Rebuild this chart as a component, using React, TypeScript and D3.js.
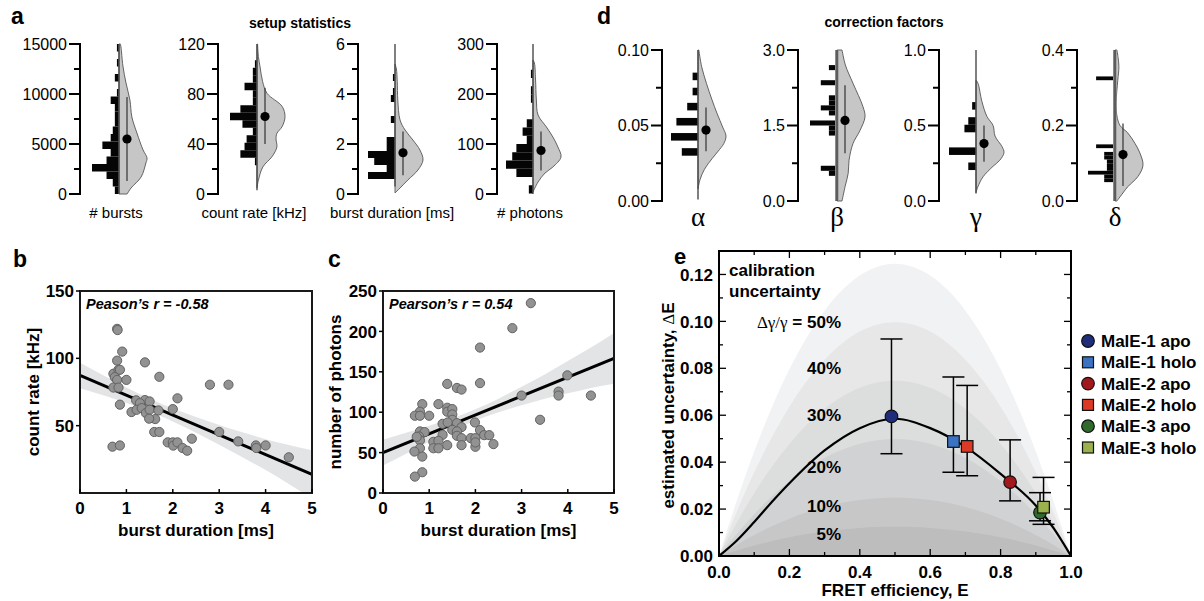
import React from "react";
import * as d3 from "d3";

const SANS = "'Liberation Sans', Arial, Helvetica, sans-serif";
const SERIF = "'Liberation Serif', 'DejaVu Serif', 'Times New Roman', serif";

// ---------------- panel a : setup statistics ----------------
const statLabels = ["# bursts", "count rate [kHz]", "burst duration [ms]", "# photons"];
const statMax = [15000, 120, 6, 300];
const statMajorTicks = [[0, 5000, 10000, 15000], [0, 40, 80, 120], [0, 2, 4, 6], [0, 100, 200, 300]];
const statMinorTicks = [[2500, 7500, 12500], [20, 60, 100], [1, 3, 5], [50, 150, 250]];
const statBinStart = [0, 23, 0.6, 1];
const statBinWidth = [750, 6, 0.28, 16.5];
const burstsCounts = [2, 3, 6, 13, 6, 4, 8, 4, 3, 2, 2, 2, 4, 1, 0, 2, 0, 1, 0, 1];
const countRateCounts = [1, 8, 6, 5, 2, 7, 13, 8, 2, 2, 6, 2, 2, 1];
const durationCounts = [13, 4, 10, 13, 4, 4, 0, 0, 2, 0, 0, 2, 1, 0, 1];
const photonsCounts = [2, 0, 8, 13, 10, 8, 3, 5, 3, 0, 0, 1, 1, 0, 1];
const burstsViolin = [[0, 0.29], [600, 0.43], [1700, 0.79], [3100, 0.96], [3600, 1.0], [4400, 0.86], [6100, 0.64], [7700, 0.46], [9400, 0.39], [11100, 0.25], [12800, 0.14], [14700, 0.07], [15000, 0.05]];
const countRateViolin = [[5, 0.0], [11, 0.05], [21.7, 0.21], [30, 0.54], [37.6, 0.71], [44, 0.68], [48.5, 0.71], [54, 0.9], [62, 1.0], [70, 0.9], [80.5, 0.36], [90, 0.2], [101.6, 0.11], [110, 0.05], [120, 0.02]];
const durationViolin = [[0.04, 0.0], [0.24, 0.18], [0.56, 0.46], [0.96, 0.82], [1.36, 1.0], [1.76, 0.89], [2.16, 0.64], [2.56, 0.36], [2.96, 0.18], [3.76, 0.1], [4.5, 0.08], [5.0, 0.05], [5.2, 0.0]];
const photonsViolin = [[4, 0.0], [24, 0.18], [42, 0.43], [54, 0.71], [74, 1.0], [94, 0.89], [114, 0.71], [134, 0.48], [158, 0.18], [188, 0.12], [230, 0.09], [262, 0.05], [268, 0.0]];
const statLineRange = [[0, 15000], [3, 120], [0.3, 6], [0, 300]];
const statMean = [5500, 62, 1.65, 87];
const statLow = [1300, 40, 0.75, 47];
const statHigh = [9700, 85, 2.5, 125];

// ---------------- panel d : correction factors ----------------
const factorLabels = ["α", "β", "γ", "δ"];
const factorMax = [0.1, 3, 1, 0.4];
const factorMajorTicks = [[0, 0.05, 0.1], [0, 1.5, 3], [0, 0.5, 1], [0, 0.2, 0.4]];
const factorMinorTicks = [[0.025, 0.075], [0.75, 2.25], [0.25, 0.75], [0.1, 0.3]];
const factorBinStart = [0.03, 0.5, 0.205, 0.05];
const factorBinWidth = [0.005, 0.1, 0.05, 0.01];
const alphaCounts = [6, 0, 10, 0, 8, 0, 4, 0, 2, 0, 2];
const betaCounts = [3, 6, 0, 0, 0, 0, 0, 0, 3, 3, 10, 0, 3, 6, 3, 3, 0, 0, 6, 0, 0, 3];
const gammaCounts = [2, 0, 7, 0, 0, 3, 2, 0, 1];
const deltaCounts = [4, 4, 10, 3, 3, 3, 4, 4, 0, 7, 0, 0, 0, 0, 0, 0, 0, 0, 0, 0, 0, 0, 0, 0, 0, 0, 0, 7];
const alphaViolin = [[0.008, 0.0], [0.014, 0.07], [0.021, 0.23], [0.028, 0.5], [0.033, 0.72], [0.038, 0.92], [0.043, 1.0], [0.049, 0.88], [0.058, 0.68], [0.067, 0.5], [0.078, 0.3], [0.089, 0.13], [0.1, 0.03]];
const betaViolin = [[0, 0.18], [0.29, 0.29], [0.55, 0.4], [0.81, 0.43], [1.14, 0.57], [1.4, 0.82], [1.67, 1.0], [1.87, 0.93], [2.34, 0.57], [2.7, 0.3], [3.0, 0.18]];
const gammaViolin = [[0.057, 0.0], [0.095, 0.07], [0.16, 0.25], [0.23, 0.61], [0.27, 0.85], [0.32, 1.0], [0.36, 0.93], [0.43, 0.68], [0.5, 0.61], [0.56, 0.39], [0.66, 0.21], [0.78, 0.07], [0.8, 0.0]];
const deltaViolin = [[0, 0.07], [0.011, 0.18], [0.038, 0.46], [0.065, 0.82], [0.095, 1.0], [0.127, 0.89], [0.153, 0.71], [0.18, 0.46], [0.2, 0.18], [0.225, 0.07], [0.26, 0.04], [0.32, 0.1], [0.356, 0.14], [0.38, 0.11], [0.4, 0.07]];
const factorLineRange = [[0.001, 0.1], [0, 3], [0.05, 1], [0, 0.4]];
const factorMean = [0.047, 1.6, 0.38, 0.123];
const factorLow = [0.033, 0.95, 0.26, 0.04];
const factorHigh = [0.062, 2.3, 0.5, 0.205];

// ---------------- panel b / c : scatter ----------------
const xTicksBC = [0, 1, 2, 3, 4, 5];
const bYTicks = [50, 100, 150];
const cYTicks = [0, 50, 100, 150, 200, 250];
const bDuration = [0.8, 0.81, 0.91, 0.8, 1.4, 0.72, 0.83, 0.86, 0.75, 0.8, 1.0, 1.71, 0.72, 0.83, 2.8, 3.2, 2.1, 1.21, 1.4, 1.5, 1.29, 1.11, 1.22, 1.33, 0.86, 1.42, 1.5, 1.69, 2.0, 1.62, 1.49, 1.6, 1.71, 1.89, 2.0, 2.01, 2.1, 2.21, 2.31, 2.41, 3.0, 3.41, 3.79, 3.8, 4.0, 4.5, 0.7, 0.86];
const bRate = [121.9, 121, 105, 98.3, 97, 88.6, 91.5, 91.5, 86, 84, 84, 86.3, 78.3, 78.3, 80.4, 80.4, 70.3, 68.8, 69, 68, 66.7, 60.1, 61.8, 63, 65.6, 59.4, 61.8, 61.3, 62.3, 54.9, 55.2, 45.3, 45.3, 37.6, 37.6, 35.2, 37.6, 33.4, 31.4, 40.3, 45.3, 38.3, 35.3, 33.4, 35.3, 26.5, 34.4, 35.3];
const bFitX = [0, 5];
const bFitY = [87.3, 13.8];
const bBandX = [0, 0.5, 1, 1.5, 2, 2.5, 3, 3.5, 4, 4.5, 5];
const bBandLo = [77.8, 72.5, 66.8, 60.5, 53.1, 44.8, 35.9, 26.6, 17, 6.7, -4.2];
const bBandHi = [96.8, 87.5, 78.4, 70.1, 62.7, 56.4, 50.5, 45.2, 40, 35.7, 31.8];

const cDuration = [3.2, 2.8, 2.1, 2.1, 1.39, 1.6, 1.7, 3.99, 3.8, 3.8, 3.0, 4.5, 3.4, 0.85, 1.2, 0.8, 0.69, 0.8, 1.0, 1.39, 1.39, 1.5, 1.5, 1.5, 1.29, 1.4, 1.6, 1.99, 1.7, 1.5, 1.6, 1.6, 2.1, 0.8, 0.9, 0.78, 0.8, 0.73, 1.29, 1.7, 1.9, 2.0, 2.19, 2.3, 1.09, 1.2, 2.0, 2.39, 1.39, 1.7, 1.09, 1.2, 0.8, 0.68, 0.85, 0.85, 0.69, 2.0];
const cPhotons = [235, 204, 180, 136, 135, 130, 128, 145.6, 125.5, 120.6, 120.6, 120.6, 90.6, 110, 110, 100.6, 95.6, 95.6, 95.6, 105.5, 100.6, 103.9, 97.3, 90.6, 85.6, 87.3, 86.4, 87.3, 81.5, 78.2, 76.2, 70.8, 77.8, 76.2, 75.4, 70, 65.1, 69.5, 72, 67.9, 67.9, 67.9, 71.6, 71.6, 63.3, 64.6, 57.2, 60.5, 59.2, 59.2, 55.4, 55.4, 55.4, 51.3, 45.1, 25.7, 20.3, 62.6];
const cFitX = [0, 5];
const cFitY = [50, 166.6];
const cBandX = [0, 0.5, 1, 1.5, 2, 2.5, 3, 3.5, 4, 4.5, 5];
const cBandLo = [34, 48.7, 63.3, 77.5, 89.6, 99.8, 108.5, 116.6, 123.3, 130, 135.1];
const cBandHi = [66, 74.7, 83.3, 92.5, 103.6, 116.8, 131.5, 146.6, 163.3, 180, 198.1];

// ---------------- panel e : calibration uncertainty ----------------
const eXTicks = [0, 0.2, 0.4, 0.6, 0.8, 1.0];
const eYTicks = [0, 0.02, 0.04, 0.06, 0.08, 0.1, 0.12];
const levelNames = ["5%", "10%", "20%", "30%", "40%", "50%"];
const levelPeak = [0.0125, 0.025, 0.05, 0.075, 0.1, 0.125];
const bandE = [0, 0.05, 0.1, 0.15, 0.2, 0.25, 0.3, 0.35, 0.4, 0.45, 0.5, 0.55, 0.6, 0.65, 0.7, 0.75, 0.8, 0.85, 0.9, 0.95, 1];
const bandShape = [0, 0.19, 0.36, 0.51, 0.64, 0.75, 0.84, 0.91, 0.96, 0.99, 1, 0.99, 0.96, 0.91, 0.84, 0.75, 0.64, 0.51, 0.36, 0.19, 0];
const fitE = [0, 0.05, 0.1, 0.15, 0.2, 0.3, 0.4, 0.5, 0.6, 0.7, 0.8, 0.9, 0.95, 1.0];
const fitDelta = [0, 0.0065, 0.0145, 0.023, 0.031, 0.045, 0.0545, 0.0585, 0.0545, 0.0465, 0.035, 0.0215, 0.012, 0];
const sampleNames = ["MalE-1 apo", "MalE-1 holo", "MalE-2 apo", "MalE-2 holo", "MalE-3 apo", "MalE-3 holo"];
const sampleE = [0.49, 0.666, 0.827, 0.705, 0.912, 0.922];
const sampleDelta = [0.0595, 0.0488, 0.0315, 0.0467, 0.0185, 0.0208];
const sampleLow = [0.0436, 0.0357, 0.0235, 0.0342, 0.015, 0.0135];
const sampleHigh = [0.0925, 0.0763, 0.0495, 0.0727, 0.027, 0.0335];
const sampleShape = ["circle", "square", "circle", "square", "circle", "square"];

const sampleColors = ["#1f2d7b", "#3b73c4", "#a3181c", "#dc3a26", "#2f6a2c", "#9bb14d"];
const bandColors = ["#bdbdbd", "#c7c7c8", "#d1d2d3", "#dcdddd", "#e7e7e8", "#f1f2f3"];

type VP = {
  axisX: number; cx: number; yTop: number; yBot: number; max: number;
  major: number[]; minor: number[]; fmt: (v: number) => string;
  binStart: number; binWidth: number; counts: number[]; violin: number[][];
  lineRange: number[]; mean: number; lo: number; hi: number; meanDx: number;
  thick: boolean; labelNode: React.ReactNode;
};

function ViolinPlot(p: VP) {
  const y = d3.scaleLinear().domain([0, p.max]).range([p.yBot, p.yTop]);
  const w = d3.scaleLinear().domain([0, d3.max(p.counts) as number]).range([0, 27]);
  const area = d3
    .area<number[]>()
    .y((d) => y(d[0]))
    .x0(p.cx)
    .x1((d) => p.cx + d[1] * 28)
    .curve(d3.curveCatmullRom);
  return (
    <g>
      <line x1={p.axisX} x2={p.axisX} y1={p.yBot + 1} y2={p.yTop - 1} stroke="#000" strokeWidth={2} />
      {p.major.map((t) => (
        <g key={"M" + t}>
          <line x1={p.axisX - 11} x2={p.axisX} y1={y(t)} y2={y(t)} stroke="#000" strokeWidth={2} />
          <text x={p.axisX - 13} y={y(t)} dy="0.36em" textAnchor="end" fontSize={16} fontFamily={SANS}>
            {p.fmt(t)}
          </text>
        </g>
      ))}
      {p.minor.map((t) => (
        <line key={"m" + t} x1={p.axisX - 6} x2={p.axisX} y1={y(t)} y2={y(t)} stroke="#000" strokeWidth={2} />
      ))}
      {p.counts.map((c, i) =>
        c > 0 ? (
          <rect
            key={"b" + i}
            x={p.cx - w(c)}
            y={y(p.binStart + (i + 1) * p.binWidth)}
            width={w(c)}
            height={y(p.binStart + i * p.binWidth) - y(p.binStart + (i + 1) * p.binWidth)}
            fill="#050505"
          />
        ) : null
      )}
      <path d={area(p.violin) || ""} fill="#c6c6c6" stroke="#555" strokeWidth={0.9} />
      {p.thick ? (
        <rect x={p.cx - 2} width={3.5} y={y(p.max)} height={y(0) - y(p.max)} fill="#8a8a8a" />
      ) : null}
      <line x1={p.cx} x2={p.cx} y1={y(p.lineRange[0])} y2={y(p.lineRange[1])} stroke="#4a4a4a" strokeWidth={1.4} />
      <line x1={p.cx + p.meanDx} x2={p.cx + p.meanDx} y1={y(p.lo)} y2={y(p.hi)} stroke="#333" strokeWidth={1.2} />
      <circle cx={p.cx + p.meanDx} cy={y(p.mean)} r={4.6} fill="#000" />
      {p.labelNode}
    </g>
  );
}

function ScatterPanel(props: {
  left: number; right: number; top: number; bottom: number; yMax: number;
  yTicks: number[]; xs: number[]; ys: number[]; fitX: number[]; fitY: number[];
  bandX: number[]; bandLo: number[]; bandHi: number[]; id: string;
  yLabel: string; yLabelX: number; note: string;
}) {
  const p = props;
  const x = d3.scaleLinear().domain([0, 5]).range([p.left, p.right]);
  const y = d3.scaleLinear().domain([0, p.yMax]).range([p.bottom, p.top]);
  const bandPts = p.bandX.map((v, i) => [v, p.bandLo[i], p.bandHi[i]]);
  const band = d3
    .area<number[]>()
    .x((d) => x(d[0]))
    .y0((d) => y(d[1]))
    .y1((d) => y(d[2]))
    .curve(d3.curveMonotoneX);
  const fit = d3
    .line<number[]>()
    .x((d) => x(d[0]))
    .y((d) => y(d[1]));
  const midY = (p.top + p.bottom) / 2;
  return (
    <g fontFamily={SANS}>
      <defs>
        <clipPath id={p.id}>
          <rect x={p.left} y={p.top} width={p.right - p.left} height={p.bottom - p.top} />
        </clipPath>
      </defs>
      <g clipPath={`url(#${p.id})`}>
        <path d={band(bandPts) || ""} fill="#e3e4e6" />
        <path d={fit(p.fitX.map((v, i) => [v, p.fitY[i]])) || ""} stroke="#000" strokeWidth={3} fill="none" />
      </g>
      {p.xs.map((v, i) => (
        <circle key={i} cx={x(v)} cy={y(p.ys[i])} r={4.6} fill="#929292" stroke="#626262" strokeWidth={1} />
      ))}
      <rect x={p.left} y={p.top} width={p.right - p.left} height={p.bottom - p.top} fill="none" stroke="#1a1a1a" strokeWidth={2} />
      {xTicksBC.map((t) => (
        <g key={"x" + t}>
          <line x1={x(t)} x2={x(t)} y1={p.bottom} y2={p.bottom - 4} stroke="#000" strokeWidth={1.5} />
          <text x={x(t)} y={p.bottom + 21} textAnchor="middle" fontSize={17} fontWeight="bold">
            {t}
          </text>
        </g>
      ))}
      {p.yTicks.map((t) => (
        <g key={"y" + t}>
          <line x1={p.left - 4} x2={p.left} y1={y(t)} y2={y(t)} stroke="#000" strokeWidth={1.5} />
          <text x={p.left - 6} y={y(t)} dy="0.36em" textAnchor="end" fontSize={17} fontWeight="bold">
            {t}
          </text>
        </g>
      ))}
      <text x={(p.left + p.right) / 2} y={p.bottom + 43} textAnchor="middle" fontSize={17} fontWeight="bold">
        burst duration [ms]
      </text>
      <text
        transform={`translate(${p.yLabelX},${midY}) rotate(-90)`}
        textAnchor="middle"
        dy="0.36em"
        fontSize={17}
        fontWeight="bold"
      >
        {p.yLabel}
      </text>
      <text x={p.left + 6} y={p.top + 18} fontSize={14.5} fontWeight="bold" fontStyle="italic">
        {p.note}
      </text>
    </g>
  );
}

function PanelE() {
  const left = 719, right = 1071, top = 251, bottom = 556;
  const x = d3.scaleLinear().domain([0, 1]).range([left, right]);
  const y = d3.scaleLinear().domain([0, 0.13]).range([bottom, top]);
  const bandArea = d3
    .area<number[]>()
    .x((d) => x(d[0]))
    .y0(y(0))
    .y1((d) => y(d[1]))
    .curve(d3.curveBasis);
  const fitLine = d3
    .line<number[]>()
    .x((d) => x(d[0]))
    .y((d) => y(d[1]))
    .curve(d3.curveMonotoneX);
  const order = levelPeak.map((_, i) => i).reverse();
  const labelVal = [0.0094, 0.0213, 0.038, 0.06, 0.08, 0.1];
  const minorY = d3.range(0, 0.1301, 0.01);
  const minorX = d3.range(0, 1.001, 0.1);
  return (
    <g fontFamily={SANS}>
      <defs>
        <clipPath id="clipE">
          <rect x={left} y={top} width={right - left} height={bottom - top} />
        </clipPath>
      </defs>
      <g clipPath="url(#clipE)">
        {order.map((i) => (
          <path
            key={"band" + i}
            d={bandArea(bandE.map((e, k) => [e, bandShape[k] * levelPeak[i]])) || ""}
            fill={bandColors[i]}
          />
        ))}
        <path d={fitLine(fitE.map((e, k) => [e, fitDelta[k]])) || ""} fill="none" stroke="#000" strokeWidth={2.2} />
      </g>
      {levelNames.map((n, i) => (
        <text key={"lab" + i} x={841} y={y(labelVal[i])} dy="0.36em" textAnchor="end" fontSize={17} fontWeight="bold">
          {i === levelNames.length - 1 ? (
            <>
              <tspan fontFamily={SERIF} fontWeight="normal">Δγ/γ</tspan>
              <tspan>{" = " + n}</tspan>
            </>
          ) : (
            n
          )}
        </text>
      ))}
      <text x={729} y={276} fontSize={17} fontWeight="bold">calibration</text>
      <text x={729} y={297} fontSize={17} fontWeight="bold">uncertainty</text>
      {sampleE.map((e, i) => {
        const cx = x(e);
        const cap = 11;
        return (
          <g key={"err" + i}>
            <line x1={cx} x2={cx} y1={y(sampleLow[i])} y2={y(sampleHigh[i])} stroke="#000" strokeWidth={1.5} />
            <line x1={cx - cap} x2={cx + cap} y1={y(sampleLow[i])} y2={y(sampleLow[i])} stroke="#000" strokeWidth={1.5} />
            <line x1={cx - cap} x2={cx + cap} y1={y(sampleHigh[i])} y2={y(sampleHigh[i])} stroke="#000" strokeWidth={1.5} />
          </g>
        );
      })}
      {sampleE.map((e, i) =>
        sampleShape[i] === "circle" ? (
          <circle key={"pt" + i} cx={x(e)} cy={y(sampleDelta[i])} r={6.3} fill={sampleColors[i]} stroke="#111" strokeWidth={1.2} />
        ) : (
          <rect key={"pt" + i} x={x(e) - 5.8} y={y(sampleDelta[i]) - 5.8} width={11.6} height={11.6} fill={sampleColors[i]} stroke="#111" strokeWidth={1.2} />
        )
      )}
      <rect x={left} y={top} width={right - left} height={bottom - top} fill="none" stroke="#000" strokeWidth={2} />
      {minorY.map((t, i) => {
        const len = i % 2 === 0 ? 7 : 4;
        return (
          <g key={"yt" + i}>
            <line x1={left} x2={left + len} y1={y(t)} y2={y(t)} stroke="#000" strokeWidth={1.3} />
            <line x1={right} x2={right - len} y1={y(t)} y2={y(t)} stroke="#000" strokeWidth={1.3} />
          </g>
        );
      })}
      {minorX.map((t, i) => {
        const len = i % 2 === 0 ? 7 : 4;
        return (
          <g key={"xt" + i}>
            <line x1={x(t)} x2={x(t)} y1={bottom} y2={bottom - len} stroke="#000" strokeWidth={1.3} />
            <line x1={x(t)} x2={x(t)} y1={top} y2={top + len} stroke="#000" strokeWidth={1.3} />
          </g>
        );
      })}
      {eYTicks.map((t) => (
        <text key={"yl" + t} x={left - 6} y={y(t)} dy="0.36em" textAnchor="end" fontSize={17} fontWeight="bold">
          {d3.format(".2f")(t)}
        </text>
      ))}
      {eXTicks.map((t) => (
        <text key={"xl" + t} x={x(t)} y={bottom + 22} textAnchor="middle" fontSize={17} fontWeight="bold">
          {d3.format(".1f")(t)}
        </text>
      ))}
      <text x={(left + right) / 2} y={bottom + 40} textAnchor="middle" fontSize={17} fontWeight="bold">
        FRET efficiency, E
      </text>
      <text transform={`translate(668,${(top + bottom) / 2 + 2}) rotate(-90)`} textAnchor="middle" dy="0.36em" fontSize={17} fontWeight="bold">
        estimated uncertainty, <tspan fontFamily={SERIF} fontWeight="normal">Δ</tspan>E
      </text>
      {sampleNames.map((n, i) => {
        const ly = 341 + i * 21.3;
        return (
          <g key={"leg" + i}>
            {sampleShape[i] === "circle" ? (
              <circle cx={1088} cy={ly} r={6.3} fill={sampleColors[i]} stroke="#111" strokeWidth={1.2} />
            ) : (
              <rect x={1082.5} y={ly - 5.5} width={11} height={11} fill={sampleColors[i]} stroke="#111" strokeWidth={1.2} />
            )}
            <text x={1101} y={ly} dy="0.36em" fontSize={17} fontWeight="bold">
              {n}
            </text>
          </g>
        );
      })}
    </g>
  );
}

export default function App() {
  const statCounts = [burstsCounts, countRateCounts, durationCounts, photonsCounts];
  const statViolins = [burstsViolin, countRateViolin, durationViolin, photonsViolin];
  const statAxisX = [80, 218, 358, 497];
  const statCx = [119, 257, 395, 533];
  const factorCounts = [alphaCounts, betaCounts, gammaCounts, deltaCounts];
  const factorViolins = [alphaViolin, betaViolin, gammaViolin, deltaViolin];
  const factorAxisX = [662, 798, 939, 1077];
  const factorCx = [698, 837, 976, 1115];
  const factorFmt = [d3.format(".2f"), d3.format(".1f"), d3.format(".1f"), d3.format(".1f")];
  return (
    <svg
      width={1204}
      height={601}
      viewBox="0 0 1204 601"
      style={{ position: "absolute", left: 0, top: 0, background: "#fff" }}
      fontFamily={SANS}
    >
      <rect width={1204} height={601} fill="#fff" />
      <text x={11} y={24} fontSize={23} fontWeight="bold">a</text>
      <text x={597} y={24} fontSize={23} fontWeight="bold">d</text>
      <text x={13} y={267} fontSize={23} fontWeight="bold">b</text>
      <text x={328} y={267} fontSize={23} fontWeight="bold">c</text>
      <text x={674} y={264} fontSize={22} fontWeight="bold">e</text>
      <text x={300} y={28} textAnchor="middle" fontSize={14} fontWeight="bold">setup statistics</text>
      <text x={884} y={27} textAnchor="middle" fontSize={14} fontWeight="bold">correction factors</text>

      {statLabels.map((lab, i) => (
        <ViolinPlot
          key={"s" + i}
          axisX={statAxisX[i]}
          cx={statCx[i]}
          yTop={44}
          yBot={194}
          max={statMax[i]}
          major={statMajorTicks[i]}
          minor={statMinorTicks[i]}
          fmt={(v) => String(v)}
          binStart={statBinStart[i]}
          binWidth={statBinWidth[i]}
          counts={statCounts[i]}
          violin={statViolins[i]}
          lineRange={statLineRange[i]}
          mean={statMean[i]}
          lo={statLow[i]}
          hi={statHigh[i]}
          meanDx={8}
          thick={false}
          labelNode={
            <text x={statCx[i] - 3} y={218} textAnchor="middle" fontSize={15} fontFamily={SANS}>
              {lab}
            </text>
          }
        />
      ))}

      {factorLabels.map((lab, i) => (
        <ViolinPlot
          key={"f" + i}
          axisX={factorAxisX[i]}
          cx={factorCx[i]}
          yTop={50}
          yBot={201}
          max={factorMax[i]}
          major={factorMajorTicks[i]}
          minor={factorMinorTicks[i]}
          fmt={factorFmt[i]}
          binStart={factorBinStart[i]}
          binWidth={factorBinWidth[i]}
          counts={factorCounts[i]}
          violin={factorViolins[i]}
          lineRange={factorLineRange[i]}
          mean={factorMean[i]}
          lo={factorLow[i]}
          hi={factorHigh[i]}
          meanDx={8}
          thick={i === 1 || i === 3}
          labelNode={
            <text x={factorCx[i]} y={226} textAnchor="middle" fontSize={27} fontFamily={SERIF}>
              {lab}
            </text>
          }
        />
      ))}

      <ScatterPanel
        id="clipB"
        left={80}
        right={312}
        top={291}
        bottom={493}
        yMax={150}
        yTicks={bYTicks}
        xs={bDuration}
        ys={bRate}
        fitX={bFitX}
        fitY={bFitY}
        bandX={bBandX}
        bandLo={bBandLo}
        bandHi={bBandHi}
        yLabel="count rate [kHz]"
        yLabelX={33}
        note="Peason’s r = -0.58"
      />
      <ScatterPanel
        id="clipC"
        left={383}
        right={614}
        top={291}
        bottom={493}
        yMax={250}
        yTicks={cYTicks}
        xs={cDuration}
        ys={cPhotons}
        fitX={cFitX}
        fitY={cFitY}
        bandX={cBandX}
        bandLo={cBandLo}
        bandHi={cBandHi}
        yLabel="number of photons"
        yLabelX={335}
        note="Pearson’s r = 0.54"
      />
      <PanelE />
    </svg>
  );
}
